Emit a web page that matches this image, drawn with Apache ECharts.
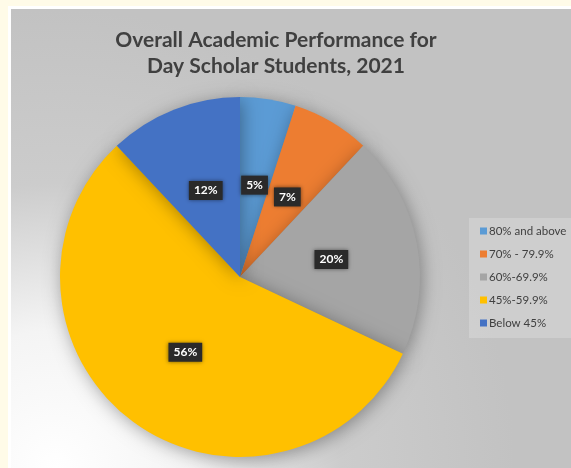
<!DOCTYPE html>
<html><head><meta charset="utf-8">
<script src="https://cdn.jsdelivr.net/npm/echarts@6/dist/echarts.min.js"></script>
<style>html,body{margin:0;padding:0;background:#fffbe8;}#c{width:571px;height:468px;}</style>
</head><body><div id="c"></div>
<script>
const titleText = 'Overall Academic Performance for\nDay Scholar Students, 2021';
const categories = ['80% and above', '70% - 79.9%', '60%-69.9%', '45%-59.9%', 'Below 45%'];
const values = [5, 7, 20, 56, 12];
const colors = ['#5B9BD5', '#ED7D31', '#A5A5A5', '#FFC000', '#4472C4'];

const chart = echarts.init(document.getElementById('c'));
chart.setOption({
  backgroundColor: '#fffbe8',
  animation: false,
  graphic: [
    { type: 'rect', z: -10, shape: { x: 8, y: 6, width: 563, height: 462 }, style: { fill: '#ffffff' } },
    { type: 'rect', z: -9, shape: { x: 11, y: 9, width: 560, height: 459 },
      style: { fill: { type: 'radial', x: 0.08, y: 1.0, r: 1.0,
        colorStops: [{ offset: 0, color: '#ffffff' }, { offset: 0.3, color: '#f4f4f4' }, { offset: 0.62, color: '#cccccc' }, { offset: 1, color: '#c2c2c2' }] } } },
    { type: 'rect', z: -8, shape: { x: 469, y: 218, width: 110, height: 120 }, style: { fill: 'rgba(235,235,235,0.3)' } }
  ],
  title: {
    text: titleText, left: 271, top: 22, textAlign: 'center',
    textStyle: { fontFamily: 'Lato', fontWeight: 'bold', fontSize: 21, color: '#404040', lineHeight: 26 }
  },
  legend: {
    orient: 'vertical', left: 475, top: 220, itemWidth: 7, itemHeight: 7, itemGap: 11,
    icon: 'rect', data: categories,
    textStyle: { fontFamily: 'Lato', fontSize: 11.5, color: '#404040', padding: [0, 0, 0, -3] }
  },
  series: [{
    type: 'pie', center: [240, 277], radius: 180, startAngle: 90, clockwise: true,
    data: categories.map((c, i) => ({ name: c, value: values[i], itemStyle: { color: colors[i] } })),
    itemStyle: { shadowBlur: 18, shadowColor: 'rgba(0,0,0,0.35)', shadowOffsetX: 2, shadowOffsetY: 3 },
    label: {
      position: 'inside', formatter: p => p.value + '%',
      fontFamily: 'Lato', fontWeight: 'bold', fontSize: 12, color: '#ffffff',
      backgroundColor: '#2a2a2a', padding: [4, 5, 3, 5],
      shadowBlur: 4, shadowColor: 'rgba(0,0,0,0.5)'
    },
    labelLine: { show: false },
    emphasis: { disabled: true }
  }]
});
</script></body></html>
